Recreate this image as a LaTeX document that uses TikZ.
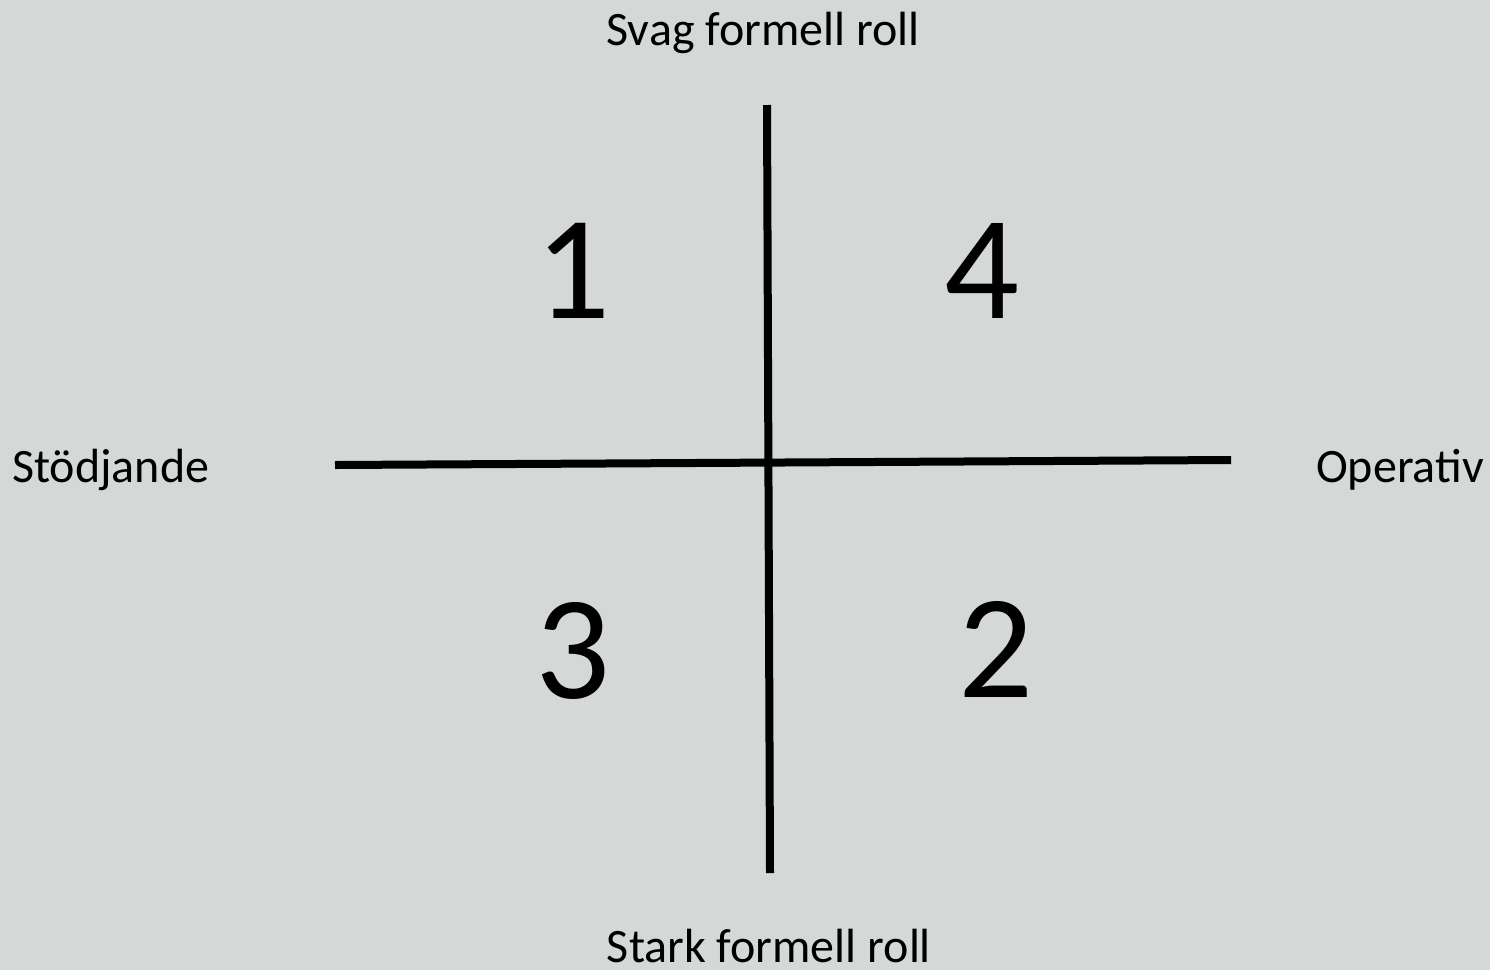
\documentclass[tikz,border=0pt]{standalone}
\usepackage{fontspec}
\setmainfont{Carlito}
\definecolor{bg}{HTML}{D4D8D7}
\begin{document}
\begin{tikzpicture}[x=1pt,y=-1pt,
  axis/.style={line width=8pt,black},
  lbl/.style={anchor=base,inner sep=0pt,font=\fontsize{48}{56}\selectfont},
  num/.style={anchor=base,inner sep=0pt,font=\fontsize{148}{170}\selectfont}]
\fill[bg] (0,0) rectangle (1490,970);
\useasboundingbox (0,0) rectangle (1490,970);
\coordinate (vt) at (767,105);
\coordinate (vb) at (770,873);
\coordinate (hl) at (335,465);
\coordinate (hr) at (1231,460);
\draw[axis] (vt) -- (vb);
\draw[axis] (hl) -- (hr);
\node[lbl] (top) at (763,45) {Svag formell roll};
\node[lbl] (bot) at (769,962) {Stark formell roll};
\node[lbl,anchor=base west] (left) at (12,482) {Stödjande};
\node[lbl,anchor=base east] (right) at (1484,482) {Operativ};
\node[num] (q1) at (573,318) {1};
\node[num] (q4) at (982,318) {4};
\node[num] (q3) at (573,698) {3};
\node[num] (q2) at (996,697) {2};
\end{tikzpicture}
\end{document}
